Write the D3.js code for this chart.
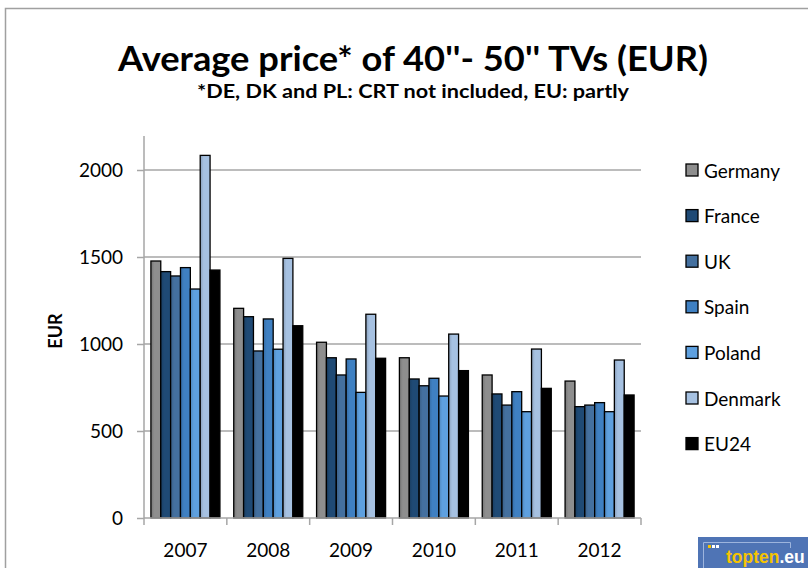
<!DOCTYPE html>
<html>
<head>
<meta charset="utf-8">
<script src="https://cdn.jsdelivr.net/npm/d3@7"></script>
<style>
  html, body { margin: 0; padding: 0; background: #fff; }
  svg { display: block; font-family: Lato, "Open Sans", sans-serif; }
</style>
</head>
<body>
<svg id="chart" width="808" height="568"></svg>
<script>
const years = ['2007', '2008', '2009', '2010', '2011', '2012'];
const series = ['Germany', 'France', 'UK', 'Spain', 'Poland', 'Denmark', 'EU24'];
const colors = ['#8e8e8e', '#1f4a75', '#44709f', '#3f80c2', '#5ea0df', '#a6c1e1', '#000000'];

const germany = [1477, 1205, 1010, 921, 822, 787];
const france  = [1416, 1157, 921, 799, 713, 640];
const uk      = [1391, 960, 822, 760, 649, 649];
const spain   = [1439, 1144, 914, 803, 726, 663];
const poland  = [1316, 970, 722, 701, 611, 611];
const denmark = [2084, 1492, 1171, 1057, 971, 908];
const eu24    = [1425, 1105, 918, 847, 745, 707];
const values = [germany, france, uk, spain, poland, denmark, eu24];

const yTicks = [0, 500, 1000, 1500, 2000];

const svg = d3.select('#chart');

// outer chart frame
svg.append('rect')
  .attr('x', 5.5).attr('y', 8.5)
  .attr('width', 830).attr('height', 600)
  .attr('fill', '#fff').attr('stroke', '#a0a0a0').attr('stroke-width', 1.5);

// titles
svg.append('text')
  .attr('x', 413).attr('y', 71)
  .attr('text-anchor', 'middle')
  .attr('font-weight', 'bold').attr('font-size', 35)
  .attr('textLength', 590).attr('lengthAdjust', 'spacingAndGlyphs')
  .text("Average price* of 40''- 50'' TVs (EUR)");

svg.append('text')
  .attr('x', 413).attr('y', 98)
  .attr('text-anchor', 'middle')
  .attr('font-weight', 'bold').attr('font-size', 19)
  .attr('textLength', 432).attr('lengthAdjust', 'spacingAndGlyphs')
  .text('*DE, DK and PL: CRT not included, EU: partly');

const plotLeft = 144, plotRight = 641, plotTop = 136, plotBottom = 518;

const y = d3.scaleLinear().domain([0, 2000]).range([plotBottom, 170]);
const x0 = d3.scaleBand().domain(years).range([plotLeft, plotRight])
  .paddingInner(1.4 / 8.4).paddingOuter(0.7 / 8.4);
const x1 = d3.scaleBand().domain(series).range([0, x0.bandwidth()]);

// gridlines
svg.append('g')
  .selectAll('line')
  .data(yTicks.filter(d => d > 0))
  .join('line')
  .attr('x1', plotLeft).attr('x2', plotRight)
  .attr('y1', d => y(d)).attr('y2', d => y(d))
  .attr('stroke', '#a6a6a6').attr('stroke-width', 1.5);

// bar gradients (darker left edge, like the original)
const defs = svg.append('defs');
colors.forEach((c, i) => {
  const g = defs.append('linearGradient').attr('id', 'g' + i)
    .attr('x1', '0').attr('x2', '1').attr('y1', '0').attr('y2', '0');
  g.append('stop').attr('offset', '0').attr('stop-color', d3.color(c).darker(0.5));
  g.append('stop').attr('offset', '0.35').attr('stop-color', c);
  g.append('stop').attr('offset', '1').attr('stop-color', c);
});

// bars
const groups = svg.append('g')
  .selectAll('g')
  .data(years)
  .join('g')
  .attr('transform', d => `translate(${x0(d)},0)`);

groups.selectAll('rect')
  .data((yr, yi) => series.map((s, si) => ({s, si, v: values[si][yi]})))
  .join('rect')
  .attr('x', d => x1(d.s))
  .attr('width', x1.bandwidth())
  .attr('y', d => y(d.v))
  .attr('height', d => plotBottom - y(d.v))
  .attr('fill', d => `url(#g${d.si})`)
  .attr('stroke', '#000').attr('stroke-width', 1.3);

// y axis
const yAxis = svg.append('g')
  .attr('transform', `translate(${plotLeft},0)`)
  .call(d3.axisLeft(y).tickValues(yTicks).tickFormat(d3.format('d')).tickSize(7).tickPadding(14));
yAxis.select('.domain').attr('d', `M0,${plotTop}V${plotBottom}`).attr('stroke', '#a6a6a6').attr('stroke-width', 1.5);
yAxis.selectAll('.tick line').attr('stroke', '#a6a6a6').attr('stroke-width', 1.5);
yAxis.selectAll('.tick text').attr('font-size', 19).attr('fill', '#000')
  .attr('font-family', 'Lato, sans-serif');

// x axis
const xTickScale = d3.scalePoint().domain(d3.range(years.length + 1)).range([plotLeft, plotRight]);
const xAxis = svg.append('g').attr('transform', `translate(0,${plotBottom})`);
xAxis.append('line').attr('x1', plotLeft).attr('x2', plotRight)
  .attr('stroke', '#a6a6a6').attr('stroke-width', 1.5);
xAxis.selectAll('line.tk')
  .data(d3.range(years.length + 1))
  .join('line').attr('class', 'tk')
  .attr('x1', d => xTickScale(d)).attr('x2', d => xTickScale(d))
  .attr('y1', 0).attr('y2', 7)
  .attr('stroke', '#a6a6a6').attr('stroke-width', 1.5);
xAxis.selectAll('text')
  .data(years)
  .join('text')
  .attr('x', d => x0(d) + x0.bandwidth() / 2)
  .attr('y', 39)
  .attr('text-anchor', 'middle')
  .attr('font-size', 19)
  .text(d => d);

// y axis title
svg.append('text')
  .attr('transform', 'translate(62,331) rotate(-90)')
  .attr('text-anchor', 'middle')
  .attr('font-weight', 'bold').attr('font-size', 18)
  .text('EUR');

// legend
const legend = svg.append('g')
  .selectAll('g')
  .data(series)
  .join('g')
  .attr('transform', (d, i) => `translate(686,${171 + i * 45.6})`);
legend.append('rect')
  .attr('x', 0).attr('y', -7).attr('width', 12).attr('height', 12)
  .attr('fill', (d, i) => colors[i])
  .attr('stroke', '#000').attr('stroke-width', 1.3);
legend.append('text')
  .attr('x', 18).attr('y', 6.5)
  .attr('font-size', 19)
  .text(d => d);

// topten.eu badge
const badge = svg.append('g').attr('transform', 'translate(698,537)');
badge.append('rect').attr('width', 110).attr('height', 31).attr('fill', '#4f74b5');
badge.append('path').attr('d', 'M5.5,31V5.5H92.5V11').attr('fill', 'none')
  .attr('stroke', '#9db4dd').attr('stroke-width', 1);
badge.append('rect').attr('x', 10).attr('y', 8).attr('width', 3).attr('height', 3).attr('fill', '#f6c400');
badge.append('rect').attr('x', 14).attr('y', 8).attr('width', 3).attr('height', 3).attr('fill', '#ffffff');
badge.append('rect').attr('x', 18).attr('y', 8).attr('width', 3).attr('height', 3).attr('fill', '#ffffff');
const bt = badge.append('text').attr('x', 28).attr('y', 26)
  .attr('font-family', '"Liberation Sans Narrow", "Liberation Sans", sans-serif')
  .attr('font-weight', 'bold').attr('font-size', 22);
bt.append('tspan').attr('fill', '#f6c400').text('topten');
bt.append('tspan').attr('fill', '#ffffff').text('.eu');
// shrink the badge text until it fits inside the page
let fs = 22;
while (fs > 10 && bt.node().getComputedTextLength() > 80) {
  fs -= 0.5;
  bt.attr('font-size', fs);
}
</script>
</body>
</html>
